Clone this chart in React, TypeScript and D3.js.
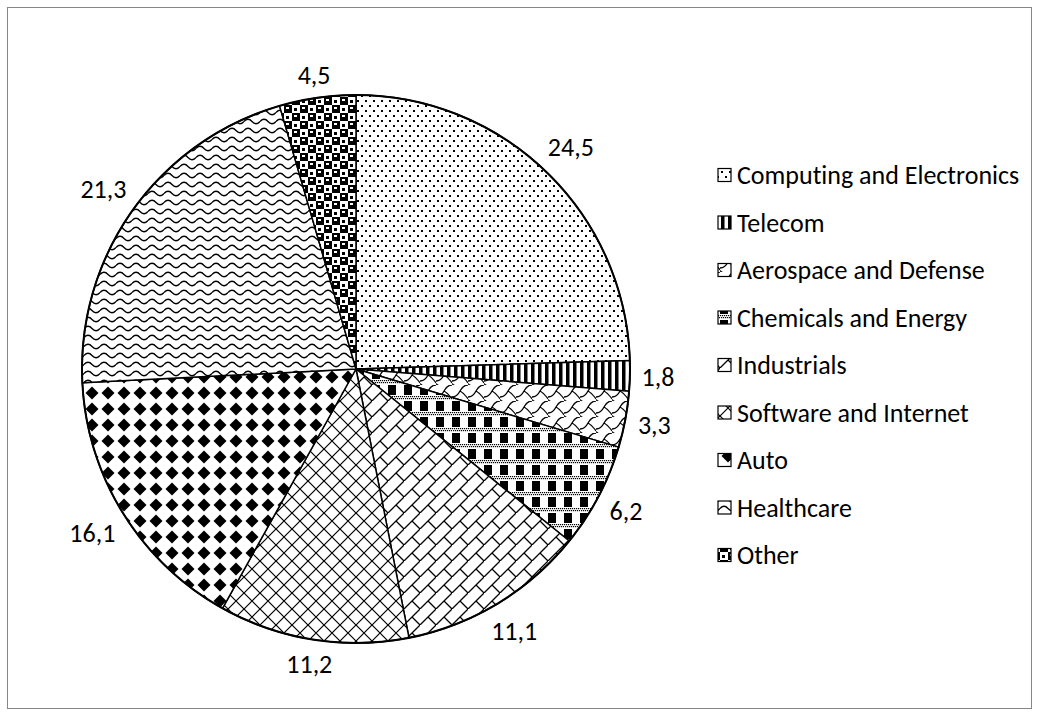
import React from "react";
import * as d3 from "d3";

const categories = [
  "Computing and Electronics",
  "Telecom",
  "Aerospace and Defense",
  "Chemicals and Energy",
  "Industrials",
  "Software and Internet",
  "Auto",
  "Healthcare",
  "Other",
];
const values = [24.5, 1.8, 3.3, 6.2, 11.1, 11.2, 16.1, 21.3, 4.5];
const patternIds = ["pDots", "pVStripe", "pShingle", "pPlaid", "pDBrick", "pDDiamond", "pSDiamond", "pWave", "pSphere"];

const W = 1039;
const H = 716;
const CX = 356;
const CY = 369;
const R = 274;
const FONT = "Carlito, Calibri, Lato, sans-serif";
const FS = 26;
const textStyle = { fontVariantLigatures: "none", fontFeatureSettings: "'liga' 0, 'clig' 0" } as React.CSSProperties;

const fmt = d3.formatLocale({ decimal: ",", thousands: " ", grouping: [3], currency: ["", ""] }).format(".1f");

function Patterns() {
  const plaidDots: JSX.Element[] = [];
  for (let i = 0; i < 8; i++) {
    plaidDots.push(<rect key={"a" + i} x={i * 2} y={11} width={1.2} height={1.2} fill="#000" />);
    plaidDots.push(<rect key={"b" + i} x={i * 2 + 1} y={13} width={1.2} height={1.2} fill="#000" />);
  }
  return (
    <defs>
      <pattern id="pDots" width={8} height={10} patternUnits="userSpaceOnUse">
        <rect width={8} height={10} fill="#fff" />
        <rect x={1} y={1} width={2} height={2} fill="#000" />
        <rect x={5} y={6} width={2} height={2} fill="#000" />
      </pattern>
      <pattern id="pVStripe" width={7} height={8} patternUnits="userSpaceOnUse">
        <rect width={7} height={8} fill="#fff" />
        <rect x={0} y={0} width={3.5} height={8} fill="#000" />
      </pattern>
      <pattern id="pShingle" width={16} height={16} patternUnits="userSpaceOnUse">
        <rect width={16} height={16} fill="#fff" />
        <path d="M0,12 Q5,12 8,6 Q11,0 16,0 M8,6 Q12,8 16,14 M-1,14 Q2,16 4,18" fill="none" stroke="#000" strokeWidth={1.3} />
      </pattern>
      <pattern id="pPlaid" width={16} height={16} patternUnits="userSpaceOnUse">
        <rect width={16} height={16} fill="#fff" />
        <rect x={0} y={0} width={8} height={10} fill="#000" />
        {plaidDots}
      </pattern>
      <pattern id="pDBrick" width={16} height={16} patternUnits="userSpaceOnUse">
        <rect width={16} height={16} fill="#fff" />
        <path d="M-2,18 L18,-2 M8,8 L16,16" fill="none" stroke="#000" strokeWidth={1.3} />
      </pattern>
      <pattern id="pDDiamond" width={16} height={16} patternUnits="userSpaceOnUse">
        <rect width={16} height={16} fill="#fff" />
        <path d="M-1,-1 L17,17 M17,-1 L-1,17" fill="none" stroke="#000" strokeWidth={1.2} />
      </pattern>
      <pattern id="pSDiamond" width={16} height={16} patternUnits="userSpaceOnUse">
        <rect width={16} height={16} fill="#fff" />
        <polygon points="8,1.5 14.5,8 8,14.5 1.5,8" fill="#000" />
      </pattern>
      <pattern id="pWave" width={16} height={9} patternUnits="userSpaceOnUse">
        <rect width={16} height={9} fill="#fff" />
        <path d="M0,4.5 C2.5,1.5 5.5,1.5 8,4.5 C10.5,7.5 13.5,7.5 16,4.5" fill="none" stroke="#000" strokeWidth={1.3} />
      </pattern>
      <pattern id="pSphere" width={16} height={16} patternUnits="userSpaceOnUse">
        <rect width={16} height={16} fill="#fff" />
        <rect x={0} y={0} width={8} height={8} fill="#000" />
        <rect x={8} y={8} width={8} height={8} fill="#000" />
        <rect x={2} y={2} width={3} height={2} fill="#fff" />
        <rect x={10} y={10} width={3} height={2} fill="#fff" />
        <rect x={10} y={3} width={3} height={3} fill="#000" />
        <rect x={2} y={11} width={3} height={3} fill="#000" />
      </pattern>
    </defs>
  );
}

export default function App() {
  const pie = d3.pie<number>().sort(null).value((d) => d);
  const arcs = pie(values);
  const arcGen = d3.arc<d3.PieArcDatum<number>>().innerRadius(0).outerRadius(R);

  const legendY = d3.scalePoint<string>().domain(categories).range([175, 555]);

  const gap = 9;
  const labelNodes = arcs.map((a, i) => {
    const mid = (a.startAngle + a.endAngle) / 2;
    const s = Math.sin(mid);
    const c = -Math.cos(mid);
    const text = fmt(values[i]);
    const w = text.length * FS * 0.48;
    const h = FS * 0.9;
    const ext = Math.abs(s) * w / 2 + Math.abs(c) * h / 2;
    const rr = R + gap + ext;
    const x = CX + rr * s;
    const y = CY + rr * c;
    return (
      <text key={i} x={x} y={y} textAnchor="middle" dominantBaseline="central" fontFamily={FONT} fontSize={FS} fill="#000" style={textStyle}>
        {text}
      </text>
    );
  });

  return (
    <svg width={W} height={H} style={{ position: "absolute", left: 0, top: 0, background: "#fff" }}>
      <Patterns />
      <rect x={0} y={0} width={W} height={H} fill="#fff" />
      <rect x={7.5} y={7.5} width={1024} height={701} fill="none" stroke="#868686" strokeWidth={1} />
      <g transform={`translate(${CX},${CY})`}>
        {arcs.map((a, i) => (
          <path key={i} d={arcGen(a) || ""} fill={`url(#${patternIds[i]})`} stroke="#000" strokeWidth={1.5} strokeLinejoin="round" />
        ))}
        <circle r={R} fill="none" stroke="#000" strokeWidth={2} />
      </g>
      {labelNodes}
      <g>
        {categories.map((c, i) => {
          const y = legendY(c) as number;
          return (
            <g key={c}>
              <rect x={718} y={y - 6.5} width={13} height={13} fill={`url(#${patternIds[i]})`} stroke="#000" strokeWidth={1.2} />
              <text x={737} y={y} dominantBaseline="central" fontFamily={FONT} fontSize={FS} fill="#000" style={textStyle}>
                {c}
              </text>
            </g>
          );
        })}
      </g>
    </svg>
  );
}
